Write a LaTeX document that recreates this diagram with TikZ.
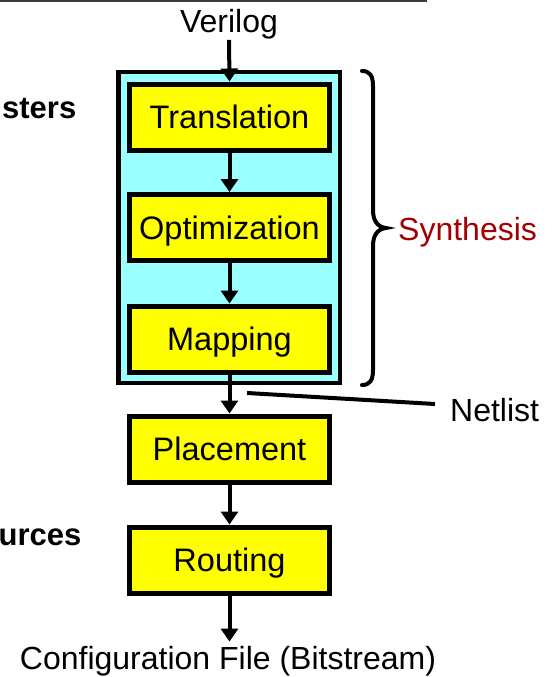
\documentclass[tikz,border=0pt]{standalone}
\usepackage{fontspec}
\setmainfont{Liberation Sans}
\usetikzlibrary{arrows.meta}
\definecolor{stageyellow}{RGB}{255,255,0}
\definecolor{synthcyan}{RGB}{153,255,255}
\definecolor{synthred}{RGB}{160,0,0}
\definecolor{rulegray}{RGB}{60,60,60}
\begin{document}
\begin{tikzpicture}[x=1pt,y=-1pt,
  stagebox/.style={draw=black,fill=stageyellow,line width=5pt,
    minimum width=200pt,minimum height=66pt,inner sep=0pt,
    text height=23pt,text depth=0pt,font=\fontsize{32.5}{38}\selectfont},
  plain/.style={inner sep=0pt,font=\fontsize{32}{38}\selectfont},
  sidelabel/.style={inner sep=0pt,font=\fontsize{31}{37}\selectfont\bfseries},
  flow/.style={line width=4pt,-{Triangle[width=17pt,length=13pt]}},
]
\useasboundingbox (0,0) rectangle (553,677);

% rule along the top edge
\draw[rulegray,line width=2pt] (0,1) -- (427,1);

% synthesis group
\draw[fill=synthcyan,line width=4.5pt] (118.5,72) rectangle (340,383);

% flow stages
\node[stagebox] (trans) at (229.5,117) {Translation};
\node[stagebox] (opt)   at (229.5,227.5) {Optimization};
\node[stagebox] (map)   at (229.5,339) {Mapping};
\node[stagebox] (place) at (229.5,449) {Placement};
\node[stagebox] (route) at (229.5,560) {Routing};

% inputs and outputs
\node[plain,anchor=base] (verilog) at (229,33) {Verilog};
\node[plain,anchor=base] (config) at (228,669) {Configuration File (Bitstream)};

% labels at the left edge
\node[sidelabel,anchor=base east] (clusters) at (76.5,118) {sters};
\node[sidelabel,anchor=base east] (resources) at (81.5,545) {urces};

% flow arrows
\draw[flow] (verilog.south) -- (trans.north);
\draw[flow] (trans.south) -- (opt.north);
\draw[flow] (opt.south) -- (map.north);
\draw[flow] (map.south) -- (place.north);
\draw[flow] (place.south) -- (route.north);
\draw[flow,shorten >=4pt] (route.south) -- (route.south |- config.north);

% brace around the synthesis steps
\draw[line width=4pt,line cap=round]
  (362,71) .. controls (370,71) and (373,76) .. (373,86)
  -- (373,210) .. controls (373,220) and (377,227) .. (386,228)
  .. controls (377,229) and (373,236) .. (373,246)
  -- (373,370) .. controls (373,380) and (370,385) .. (362,385);
\node[plain,anchor=base west,text=synthred] (synth) at (398,240) {Synthesis};

% netlist callout
\node[plain,anchor=base west] (netlist) at (450,421) {Netlist};
\coordinate (netA) at (247,393);
\coordinate (netB) at (435,404);
\draw[line width=4pt] (netA) -- (netB);
\end{tikzpicture}
\end{document}
